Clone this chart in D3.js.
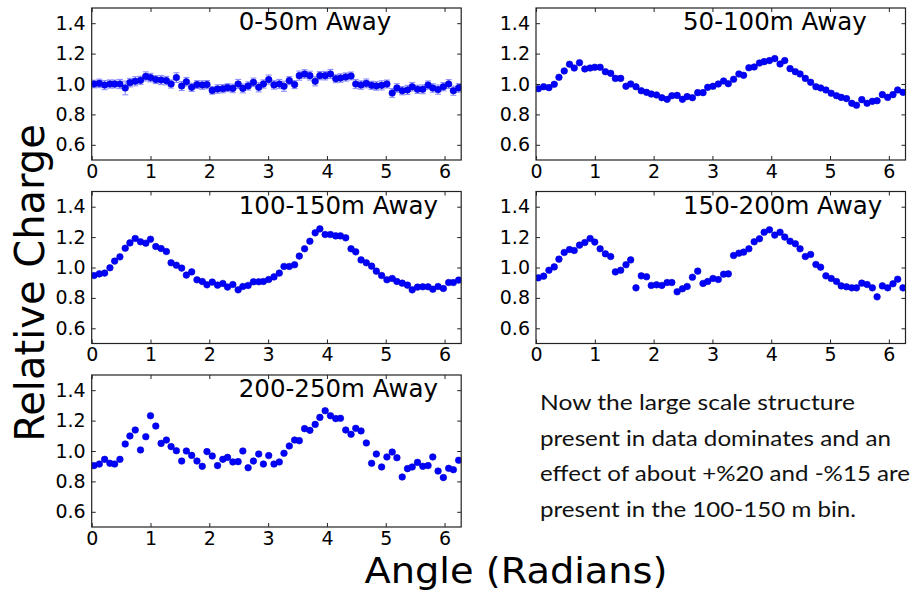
<!DOCTYPE html>
<html><head><meta charset="utf-8">
<script src="https://cdn.jsdelivr.net/npm/d3@7"></script>
<style>
html,body{margin:0;padding:0;background:#fff;}
svg{display:block;}
</style></head>
<body>
<svg id="chart" width="916" height="591"></svg>
<script>
// ---- data ----
const angles = [0.04,0.13,0.22,0.31,0.39,0.48,0.57,0.65,0.74,0.83,0.92,1.00,1.09,1.18,1.27,1.35,1.44,1.53,1.61,1.70,1.79,1.88,1.96,2.05,2.14,2.23,2.31,2.40,2.49,2.57,2.66,2.75,2.84,2.92,3.01,3.10,3.19,3.27,3.36,3.45,3.53,3.62,3.71,3.80,3.88,3.97,4.06,4.15,4.23,4.32,4.41,4.49,4.58,4.67,4.76,4.84,4.93,5.02,5.11,5.19,5.28,5.37,5.45,5.54,5.63,5.72,5.80,5.89,5.98,6.07,6.15,6.24];

const titles = ["0-50m Away","50-100m Away","100-150m Away","150-200m Away","200-250m Away"];

const bin0_50 = [1.0,1.004,0.993,1.0,1.0,1.0,0.974,1.009,1.018,1.024,1.05,1.042,1.029,1.026,1.022,1.0,1.042,0.987,1.015,0.978,0.996,0.993,0.996,0.958,0.967,0.969,0.976,0.971,1.0,0.971,0.987,1.011,0.978,1.0,1.029,0.994,1.0,0.985,1.022,0.996,1.055,1.066,1.055,1.018,1.055,1.055,1.066,1.035,1.039,1.046,1.053,1.0,0.993,1.004,0.991,0.987,0.991,1.0,0.941,0.974,0.956,0.961,0.982,0.965,0.965,0.993,0.974,0.963,0.982,1.0,0.956,0.974];
const err0_50 = [0.025,0.028,0.03,0.027,0.026,0.03,0.045,0.028,0.03,0.027,0.03,0.028,0.026,0.03,0.028,0.027,0.032,0.03,0.028,0.027,0.026,0.028,0.027,0.025,0.028,0.027,0.026,0.028,0.03,0.029,0.027,0.028,0.03,0.027,0.03,0.028,0.03,0.033,0.027,0.026,0.03,0.028,0.029,0.03,0.027,0.028,0.03,0.026,0.028,0.027,0.026,0.03,0.028,0.029,0.027,0.028,0.03,0.026,0.029,0.028,0.027,0.03,0.028,0.027,0.029,0.027,0.028,0.03,0.027,0.029,0.03,0.028];
const bin50_100 = [0.969,0.982,0.976,0.998,1.044,1.086,1.13,1.105,1.14,1.099,1.105,1.11,1.11,1.081,1.07,1.037,1.037,0.985,1.0,0.982,0.956,0.945,0.934,0.928,0.91,0.899,0.923,0.925,0.899,0.917,0.91,0.943,0.943,0.978,0.985,1.0,1.02,1.002,1.031,1.066,1.057,1.107,1.112,1.138,1.147,1.154,1.167,1.132,1.154,1.101,1.081,1.066,1.037,1.011,0.982,0.974,0.961,0.939,0.923,0.912,0.904,0.873,0.86,0.897,0.873,0.886,0.89,0.93,0.912,0.93,0.961,0.945];
const bin100_150 = [0.947,0.958,0.963,0.998,1.042,1.07,1.127,1.162,1.191,1.169,1.16,1.186,1.138,1.125,1.105,1.031,1.015,0.996,0.95,0.971,0.919,0.908,0.886,0.904,0.884,0.895,0.871,0.888,0.853,0.875,0.882,0.906,0.906,0.908,0.921,0.938,0.963,1.007,1.007,1.018,1.075,1.123,1.173,1.228,1.254,1.217,1.217,1.208,1.208,1.195,1.123,1.103,1.05,1.031,1.009,0.976,0.947,0.919,0.928,0.908,0.897,0.884,0.853,0.871,0.873,0.873,0.857,0.875,0.862,0.901,0.901,0.917];
const bin150_200 = [0.932,0.943,0.982,1.004,1.055,1.099,1.118,1.112,1.147,1.164,1.191,1.167,1.123,1.09,1.072,0.971,0.982,1.018,1.05,0.866,0.945,0.939,0.882,0.886,0.882,0.901,0.901,0.84,0.86,0.875,0.936,0.976,0.895,0.908,0.928,0.921,0.956,0.958,1.079,1.094,1.101,1.123,1.169,1.189,1.232,1.248,1.213,1.232,1.2,1.173,1.156,1.123,1.072,1.086,1.02,1.002,0.945,0.928,0.908,0.879,0.873,0.866,0.866,0.897,0.888,0.866,0.807,0.879,0.866,0.893,0.923,0.866];
const bin200_250 = [0.904,0.914,0.945,0.919,0.914,0.945,1.046,1.099,1.138,1.007,1.094,1.232,1.164,1.05,1.072,1.029,1.002,0.934,1.0,0.971,0.934,0.899,0.996,0.967,0.904,0.945,0.958,0.928,0.93,1.0,0.89,0.934,0.98,0.914,0.97,0.914,0.928,0.985,1.033,1.072,1.068,1.147,1.136,1.175,1.221,1.265,1.232,1.213,1.215,1.138,1.11,1.149,1.132,1.053,0.919,0.98,0.895,0.961,0.993,0.956,0.829,0.884,0.895,0.925,0.899,0.904,0.961,0.868,0.825,0.886,0.877,0.939];

const xTicks = [0,1,2,3,4,5,6];
const yTicks = [0.6,0.8,1.0,1.2,1.4];
const yLabel = "Relative Charge";
const xLabel = "Angle (Radians)";
const noteLines = ["Now the large scale structure","present in data dominates and an","effect of about +%20 and -%15 are","present in the 100-150 m bin."];

// ---- layout ----
const svg = d3.select("#chart");
const FONT = "'DejaVu Sans', sans-serif";
const W = 369.5, H = 152;
const panels = [
  {left: 91.7, top: 8, values: bin0_50, errs: err0_50},
  {left: 536, top: 8, values: bin50_100},
  {left: 91.7, top: 191.5, values: bin100_150},
  {left: 536, top: 191.5, values: bin150_200},
  {left: 91.7, top: 375, values: bin200_250}
];

panels.forEach((p, i) => {
  const x = d3.scaleLinear().domain([0, 2*Math.PI]).range([p.left, p.left + W]);
  const y = d3.scaleLinear().domain([0.5, 1.5]).range([p.top + H, p.top]);
  const g = svg.append("g");

  const cid = "clip" + i;
  svg.append("clipPath").attr("id", cid).append("rect")
    .attr("x", p.left).attr("y", p.top).attr("width", W).attr("height", H);

  const ax = (sel) => { sel.select(".domain").remove(); sel.selectAll("line").attr("stroke", "#222"); };

  g.append("g").attr("transform", `translate(0,${p.top + H})`)
    .call(d3.axisBottom(x).tickValues(xTicks).tickFormat(d3.format("d")).tickSizeInner(-4).tickSizeOuter(0).tickPadding(4))
    .call(ax)
    .selectAll("text").attr("font-family", FONT).attr("font-size", 19).attr("fill", "#000");
  g.append("g").attr("transform", `translate(0,${p.top})`)
    .call(d3.axisTop(x).tickValues(xTicks).tickFormat("").tickSizeInner(-4).tickSizeOuter(0))
    .call(ax);
  g.append("g").attr("transform", `translate(${p.left},0)`)
    .call(d3.axisLeft(y).tickValues(yTicks).tickFormat(d3.format(".1f")).tickSizeInner(-4).tickSizeOuter(0).tickPadding(6))
    .call(ax)
    .selectAll("text").attr("font-family", FONT).attr("font-size", 19).attr("fill", "#000");
  g.append("g").attr("transform", `translate(${p.left + W},0)`)
    .call(d3.axisRight(y).tickValues(yTicks).tickFormat("").tickSizeInner(-4).tickSizeOuter(0))
    .call(ax);

  const data = angles.map((a, k) => ({a, v: p.values[k], e: p.errs ? p.errs[k] : null}));
  const dg = g.append("g").attr("clip-path", `url(#${cid})`);

  if (p.errs) {
    const eg = dg.append("g").attr("stroke", "#7c7cff").attr("stroke-width", 1.1).attr("opacity", 0.85);
    eg.selectAll("line.v").data(data).join("line")
      .attr("x1", d => x(d.a)).attr("x2", d => x(d.a))
      .attr("y1", d => y(d.v - d.e)).attr("y2", d => y(d.v + d.e));
    eg.selectAll("line.t").data(data).join("line")
      .attr("x1", d => x(d.a) - 3).attr("x2", d => x(d.a) + 3)
      .attr("y1", d => y(d.v + d.e)).attr("y2", d => y(d.v + d.e));
    eg.selectAll("line.b").data(data).join("line")
      .attr("x1", d => x(d.a) - 3).attr("x2", d => x(d.a) + 3)
      .attr("y1", d => y(d.v - d.e)).attr("y2", d => y(d.v - d.e));
  }

  dg.selectAll("circle").data(data).join("circle")
    .attr("cx", d => x(d.a)).attr("cy", d => y(d.v)).attr("r", 3.3)
    .attr("fill", "#0000ff").attr("stroke", "#0000c8").attr("stroke-width", 0.6);

  g.append("rect").attr("x", p.left).attr("y", p.top).attr("width", W).attr("height", H)
    .attr("fill", "none").attr("stroke", "#222").attr("stroke-width", 1.2);

  g.append("text").attr("x", x(2.5)).attr("y", y(1.355))
    .attr("font-family", FONT).attr("font-size", 24.5).attr("fill", "#000")
    .text(titles[i]);
});

// axis labels
svg.append("text").attr("transform", "translate(44,283) rotate(-90)")
  .attr("text-anchor", "middle").attr("font-family", FONT).attr("font-size", 40).attr("fill", "#000")
  .text(yLabel);
svg.append("text").attr("x", 516).attr("y", 583)
  .attr("text-anchor", "middle").attr("font-family", FONT).attr("font-size", 36).attr("fill", "#000")
  .attr("textLength", 303).attr("lengthAdjust", "spacingAndGlyphs")
  .text(xLabel);

// note
const noteW = [315, 351, 370, 316];
const noteY = [410, 445.5, 481, 516.5];
noteLines.forEach((t, i) => {
  svg.append("text").attr("x", 540).attr("y", noteY[i])
    .attr("font-family", "Lato, 'Open Sans', sans-serif").attr("font-size", 22).attr("fill", "#111")
    .attr("textLength", noteW[i]).attr("lengthAdjust", "spacingAndGlyphs")
    .text(t);
});
</script>
</body></html>
